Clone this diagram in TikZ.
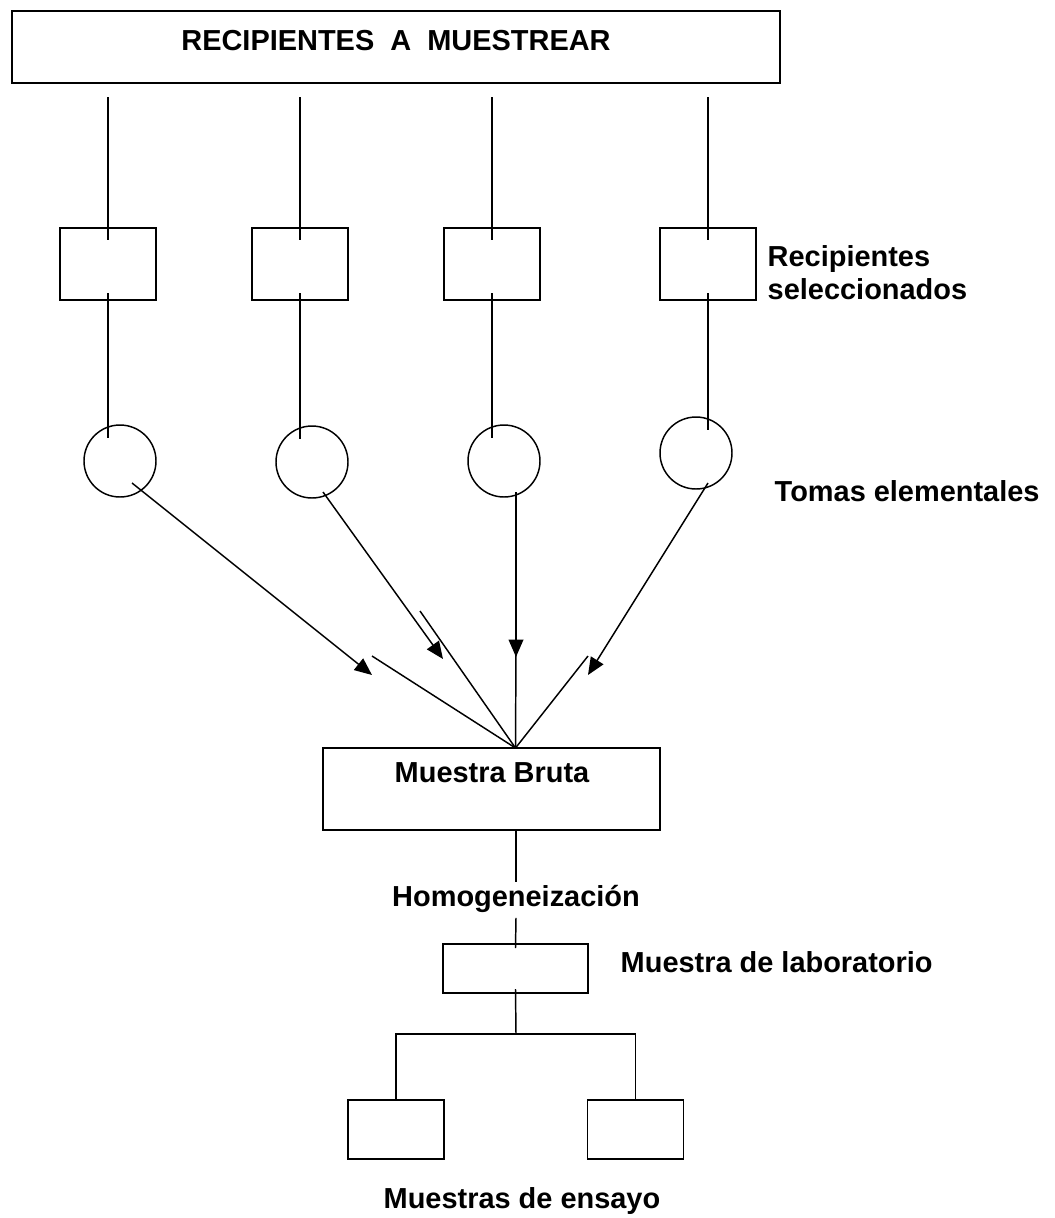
\documentclass[tikz,border=0pt]{standalone}
\usepackage{fontspec}
\setmainfont{Liberation Sans}
\usetikzlibrary{arrows.meta}

\begin{document}
\begin{tikzpicture}[x=0.75pt, y=-0.75pt, line width=1.1pt,
    caja/.style={shape=rectangle, draw=black, inner sep=0pt, outer sep=0pt},
    toma/.style={shape=circle, draw=black, minimum size=54pt, inner sep=0pt, outer sep=0pt},
    rotulo/.style={inner sep=0pt, font=\bfseries\fontsize{21.7}{24.75}\selectfont},
    flecha/.style={-{Triangle[length=13pt, width=11pt]}}]
    \useasboundingbox (0,0) rectangle (1054,1218);

    % cajas
    \node[caja, minimum width=576pt, minimum height=54pt] (R) at (396,47) {};
    \node[rotulo, anchor=base] (Rt) at (396,50) {RECIPIENTES\ \ A\ \ MUESTREAR};
    \node[caja, minimum width=72pt, minimum height=54pt] (S1) at (108,264) {};
    \node[caja, minimum width=72pt, minimum height=54pt] (S2) at (300,264) {};
    \node[caja, minimum width=72pt, minimum height=54pt] (S3) at (492,264) {};
    \node[caja, minimum width=72pt, minimum height=54pt] (S4) at (708,264) {};
    \node[toma] (C1) at (120,461) {};
    \node[toma] (C2) at (312,462) {};
    \node[toma] (C3) at (504,461) {};
    \node[toma] (C4) at (696,453) {};
    \node[caja, minimum width=252.75pt, minimum height=61.5pt] (B) at (491.5,789) {};
    \node[caja, minimum width=108.75pt, minimum height=36.75pt] (L) at (515.5,968.5) {};
    \node[caja, minimum width=72pt, minimum height=44.25pt] (E1) at (396,1129.5) {};
    \node[caja, minimum width=72pt, minimum height=44.25pt] (E2) at (635.5,1129.5) {};

    % rotulos
    \node[rotulo, anchor=north west, align=left] (RS) at (767,245) {Recipientes\\seleccionados};
    \node[rotulo, anchor=base west] (TE) at (774,501) {Tomas elementales};
    \node[rotulo, anchor=base] (MB) at (492,782) {Muestra Bruta};
    \node[rotulo, anchor=base] (H) at (516,906) {Homogeneización};
    \node[rotulo, anchor=base west] (ML) at (620,972) {Muestra de laboratorio};
    \node[rotulo, anchor=base] (ME) at (522,1208) {Muestras de ensayo};

    % puntas y arranques
    \coordinate (t1) at (372,675);
    \coordinate (t2) at (443,659);
    \coordinate (t3) at (516,657);
    \coordinate (t4) at (588,675);
    \coordinate (k1) at (372,656);
    \coordinate (k2) at (420,611);
    \coordinate (k3) at (516,650);
    \coordinate (k4) at (588,656);
    \coordinate (m) at (L |- B.north);
    \coordinate (bif) at (516,1034);

    % recipientes -> tomas
    \path (S1 |- R.south) ++(0,14) edge ([yshift=-9pt]S1.north);
    \path (S2 |- R.south) ++(0,14) edge ([yshift=-9pt]S2.north);
    \path (S3 |- R.south) ++(0,14) edge ([yshift=-9pt]S3.north);
    \path (S4 |- R.south) ++(0,14) edge ([yshift=-9pt]S4.north);
    \path ([yshift=5.25pt]S1.south) edge ([yshift=-9.75pt]S1 |- C1.north);
    \path ([yshift=5.25pt]S2.south) edge ([yshift=-9.75pt]S2 |- C2.north);
    \path ([yshift=5.25pt]S3.south) edge ([yshift=-9.75pt]S3 |- C3.north);
    \path ([yshift=5.25pt]S4.south) edge ([yshift=-9.75pt]S4 |- C4.north);

    % tomas -> muestra bruta
    \path[flecha] ([shift={(12,22)}]C1.center) edge (t1);
    \path[flecha] ([shift={(11,30)}]C2.center) edge (t2);
    \path[flecha] ([shift={(12,31)}]C3.center) edge (t3);
    \path[flecha] ([shift={(12,30)}]C4.center) edge (t4);
    \path (k1) edge (m);
    \path (k2) edge (m);
    \path (k3) edge (m);
    \path (k4) edge (m);

    % muestra bruta -> ensayo
    \path (B.south -| H) edge ([yshift=1.5pt]H.north);
    \path ([yshift=-3.75pt]H.south) edge ([yshift=-3pt]L.north);
    \path ([yshift=3pt]L.south) edge (bif);
    \draw (bif) -| (E1.north);
    \draw (bif) -| (E2.north);
\end{tikzpicture}
\end{document}
